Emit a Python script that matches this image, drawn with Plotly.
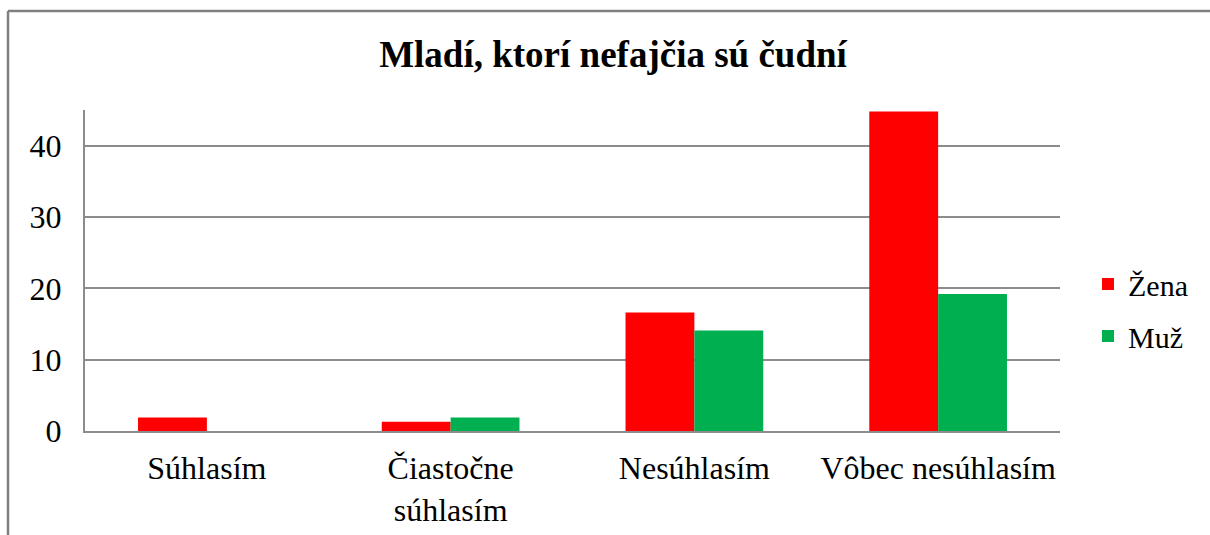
import plotly.graph_objects as go

categories = ["Súhlasím", "Čiastočne<br>súhlasím", "Nesúhlasím", "Vôbec nesúhlasím"]
zena = [1.9, 1.3, 16.6, 44.8]
muz = [0, 1.9, 14.1, 19.2]
series_names = ["Žena", "Muž"]
colors = ["#FF0000", "#00B050"]
y_ticks = [0, 10, 20, 30, 40]

W, H = 1210, 535
L, R, T, B = 85, 1060, 110, 431


def px(x):
    return (x - L) / (R - L)


def py(y):
    return (B - y) / (B - T)


FONT = "Liberation Serif"

fig = go.Figure()
for name, vals, col, grp in zip(series_names, [zena, muz], colors, ["a", "b"]):
    fig.add_trace(go.Bar(x=categories, y=vals, name=name, marker_color=col,
                         marker_line_width=0, legendgroup=grp))

fig.update_layout(
    width=W, height=H,
    margin=dict(l=L, r=W - R, t=T, b=H - B, pad=0, autoexpand=False),
    paper_bgcolor="white", plot_bgcolor="white",
    barmode="group", bargap=0.435, bargroupgap=0,
    font=dict(family=FONT, size=30, color="black"),
    title=dict(text="<b>Mladí, ktorí nefajčia sú čudní</b>",
               font=dict(family=FONT, size=37, color="black"),
               x=613 / W, xanchor="center", xref="container",
               y=1 - 54 / H, yanchor="middle", yref="container"),
    legend=dict(x=px(1088), xanchor="left", y=py(310), yanchor="middle",
                font=dict(family=FONT, size=30), traceorder="grouped",
                tracegroupgap=10, bgcolor="rgba(0,0,0,0)", itemwidth=30),
    xaxis=dict(showline=True, linecolor="#8c8c8c", linewidth=2,
               showgrid=False, ticks="", automargin=False,
               tickfont=dict(family=FONT, size=32),
               ticklabelstandoff=8),
    yaxis=dict(range=[0, 45], tickvals=y_ticks, showline=True,
               linecolor="#8c8c8c", linewidth=2, showgrid=True,
               gridcolor="#8c8c8c", gridwidth=2, ticks="", automargin=False,
               tickfont=dict(family=FONT, size=32), ticklabelstandoff=15,
               zeroline=False),
    shapes=[
        dict(type="line", xref="paper", yref="paper",
             x0=px(8), x1=px(1215), y0=py(11), y1=py(11),
             line=dict(color="#808080", width=2.5)),
        dict(type="line", xref="paper", yref="paper",
             x0=px(8), x1=px(8), y0=py(11), y1=py(540),
             line=dict(color="#808080", width=2.5)),
    ],
)

fig.write_html("out.html", config={"displayModeBar": False},
               post_script="document.body.style.margin='0';document.body.style.overflow='hidden';")
